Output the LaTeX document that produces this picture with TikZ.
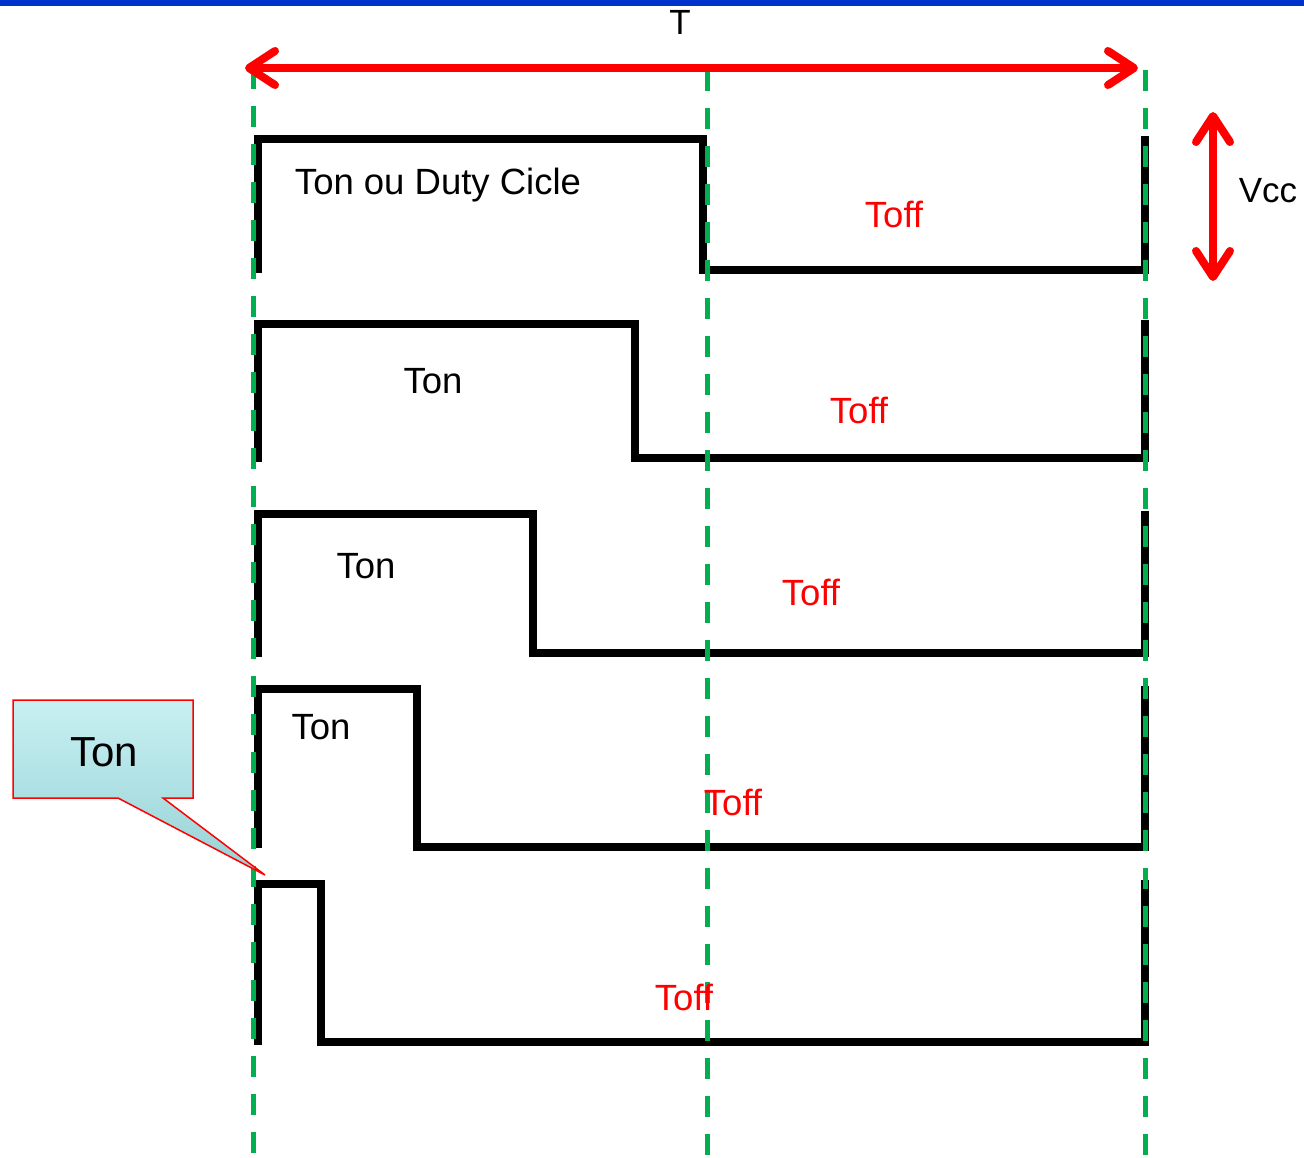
\documentclass[tikz,border=0pt]{standalone}
\usepackage{fontspec}
\setmainfont{Liberation Sans}
\usetikzlibrary{arrows.meta}
\definecolor{topbar}{HTML}{0033CC}
\definecolor{guide}{HTML}{00B050}
\definecolor{callA}{HTML}{C8F0F2}
\definecolor{callB}{HTML}{96D2D6}
\tikzset{
  wave/.style={line width=7.5pt, black, line join=miter},
  guideline/.style={line width=5pt, guide, dash pattern=on 21pt off 17pt},
  redarrow/.style={line width=8pt, red, {Straight Barb[length=26pt,width=34pt,round]}-{Straight Barb[length=26pt,width=34pt,round]}},
  lbl/.style={font=\fontsize{36.5}{40}\selectfont, inner sep=0pt},
  offlbl/.style={lbl, text=red},
}
\begin{document}
\begin{tikzpicture}[x=1pt,y=-1pt]
\useasboundingbox (0,0) rectangle (1304,1157);
% top bar
\fill[topbar] (0,0) rectangle (1304,6);

% waveforms
\draw[wave] (258,273) -- (258,139) -- (703,139) -- (703,270) -- (1145,270) -- (1145,136);
\draw[wave] (258,462) -- (258,324) -- (635,324) -- (635,458) -- (1145,458) -- (1145,320);
\draw[wave] (258,657) -- (258,514) -- (533,514) -- (533,653) -- (1145,653) -- (1145,511);
\draw[wave] (258,848) -- (258,689) -- (417,689) -- (417,847) -- (1145,847) -- (1145,686);
\draw[wave] (258,1045) -- (258,884) -- (321,884) -- (321,1042) -- (1145,1042) -- (1145,880);

% guide lines
\coordinate (g1t) at (253,68);  \coordinate (g1b) at (253,1157);
\coordinate (g2t) at (707,70);  \coordinate (g2b) at (707,1157);
\coordinate (g3t) at (1145,70); \coordinate (g3b) at (1145,1157);
\draw[guideline] (g1t) -- (g1b);
\draw[guideline] (g2t) -- (g2b);
\draw[guideline] (g3t) -- (g3b);

% period arrow
\coordinate (pL) at (245,68);
\coordinate (pR) at (1138,68);
\draw[redarrow] (pL) -- (pR);
\node[lbl, font=\fontsize{35}{38}\selectfont] (T) at (680,22) {T};

% Vcc arrow
\coordinate (vT) at (1213,112);
\coordinate (vB) at (1213,281);
\draw[redarrow] (vT) -- (vB);
\node[lbl, font=\fontsize{35}{38}\selectfont] (vcc) at (1268,191) {Vcc};

% labels
\node[lbl] (on1) at (438,185) {Ton ou Duty Cicle};
\node[offlbl] (off1) at (894,214) {Toff};
\node[lbl] (on2) at (433,381) {Ton};
\node[offlbl] (off2) at (859,410) {Toff};
\node[lbl] (on3) at (366,566) {Ton};
\node[offlbl] (off3) at (811,592) {Toff};
\node[lbl] (on4) at (321,727) {Ton};
\node[offlbl] (off4) at (733,802) {Toff};
\node[offlbl] (off5) at (684,997) {Toff};

% callout
\shade[top color=callA, bottom color=callB, draw=red, line width=1.5pt, line join=miter]
  (13,700) -- (193,700) -- (193,798) -- (163,798) -- (265,875) -- (118,798) -- (13,798) -- cycle;
\node[inner sep=0pt, font=\fontsize{42}{46}\selectfont] (callout) at (104,752) {Ton};
\end{tikzpicture}
\end{document}
